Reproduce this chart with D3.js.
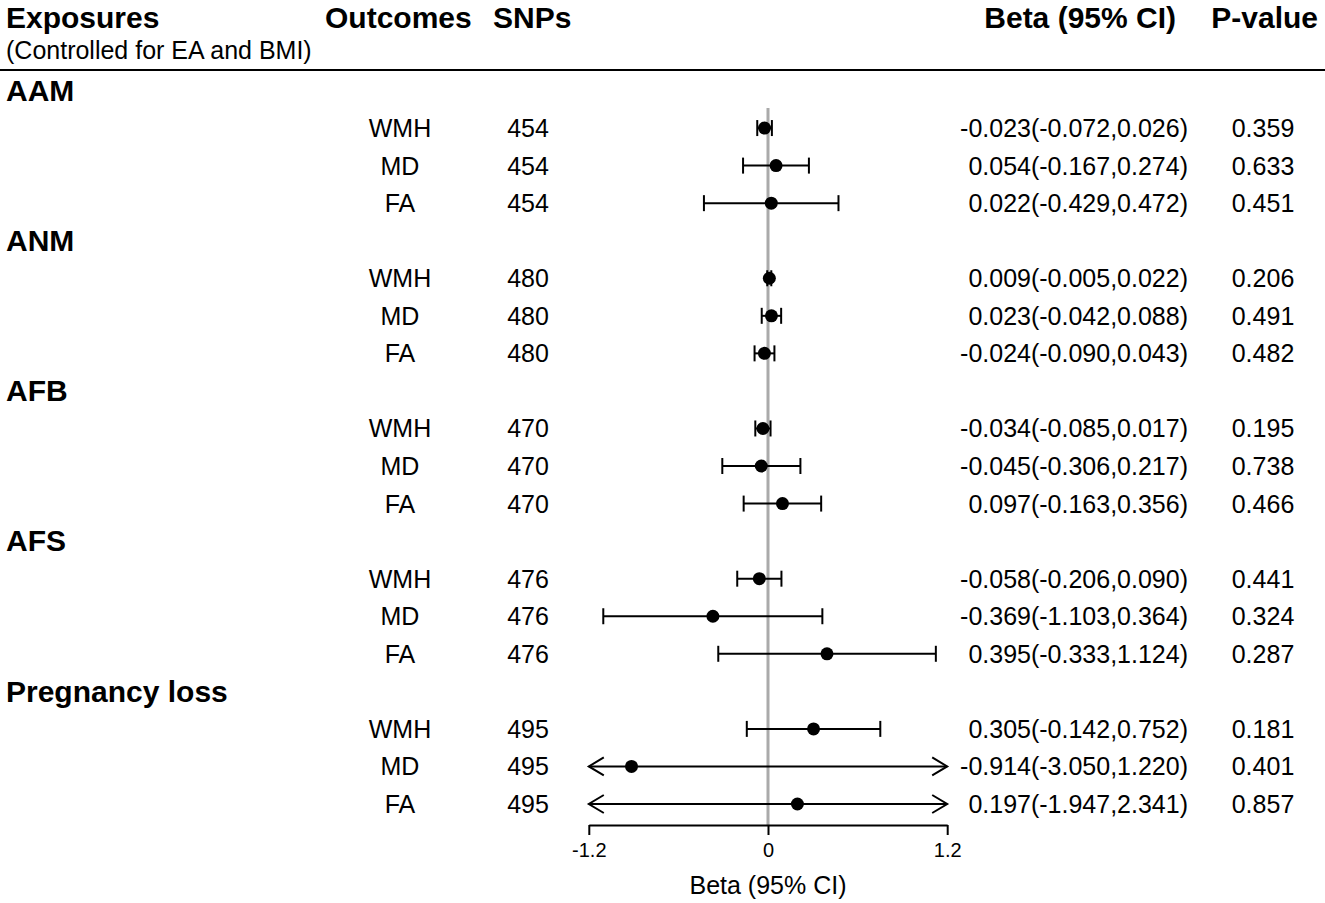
<!DOCTYPE html>
<html lang="en">
<head>
  <meta charset="utf-8">
  <title>Forest plot</title>
  <script src="https://cdn.jsdelivr.net/npm/d3@7"></script>
  <style>
    body { margin: 0; background: #fff; }
    svg text { font-family: "Liberation Sans", Arial, sans-serif; fill: #000; }
  </style>
</head>
<body>
<script>
  // data
  const groups = ["AAM", "ANM", "AFB", "AFS", "Pregnancy loss"];
  const outcomes = ["WMH", "MD", "FA"];
  const snps = [454, 480, 470, 476, 495];
  const beta = [
    [-0.023, 0.054, 0.022],
    [0.009, 0.023, -0.024],
    [-0.034, -0.045, 0.097],
    [-0.058, -0.369, 0.395],
    [0.305, -0.914, 0.197]
  ];
  const lower = [
    [-0.072, -0.167, -0.429],
    [-0.005, -0.042, -0.090],
    [-0.085, -0.306, -0.163],
    [-0.206, -1.103, -0.333],
    [-0.142, -3.050, -1.947]
  ];
  const upper = [
    [0.026, 0.274, 0.472],
    [0.022, 0.088, 0.043],
    [0.017, 0.217, 0.356],
    [0.090, 0.364, 1.124],
    [0.752, 1.220, 2.341]
  ];
  const pvals = [
    ["0.359", "0.633", "0.451"],
    ["0.206", "0.491", "0.482"],
    ["0.195", "0.738", "0.466"],
    ["0.441", "0.324", "0.287"],
    ["0.181", "0.401", "0.857"]
  ];
  const tickVals = [-1.2, 0, 1.2];
  const tickLabels = ["-1.2", "0", "1.2"];

  const W = 1325, H = 903;
  const svg = d3.select("body").append("svg")
    .attr("width", W).attr("height", H);

  // flatten into rows: header row + 3 outcome rows per group
  const rows = [];
  groups.forEach(function (g, gi) {
    rows.push({ type: "group", label: g });
    outcomes.forEach(function (o, oi) {
      rows.push({
        type: "item", outcome: o, snp: snps[gi],
        b: beta[gi][oi], lo: lower[gi][oi], hi: upper[gi][oi], p: pvals[gi][oi]
      });
    });
  });

  const y = d3.scaleLinear().domain([0, rows.length - 1]).range([90.5, 804]);
  const x = d3.scaleLinear().domain([-1.2, 1.2]).range([588.8, 947.2]);
  const f3 = d3.format(".3f");
  const fmt = v => f3(v).replace("−", "-");

  // column headers
  const hdr = svg.append("g").attr("font-weight", "bold").attr("font-size", 30);
  hdr.append("text").attr("x", 6).attr("y", 28).text("Exposures");
  hdr.append("text").attr("x", 325).attr("y", 28).text("Outcomes");
  hdr.append("text").attr("x", 493).attr("y", 28).text("SNPs");
  hdr.append("text").attr("x", 1176).attr("y", 28).attr("text-anchor", "end").text("Beta (95% CI)");
  hdr.append("text").attr("x", 1318).attr("y", 28).attr("text-anchor", "end").text("P-value");
  svg.append("text").attr("x", 6).attr("y", 59).attr("font-size", 25)
    .text("(Controlled for EA and BMI)");

  svg.append("line")
    .attr("x1", 0).attr("x2", W).attr("y1", 70).attr("y2", 70)
    .attr("stroke", "#000").attr("stroke-width", 2);

  // zero line
  svg.append("line")
    .attr("x1", x(0)).attr("x2", x(0)).attr("y1", 108).attr("y2", 825)
    .attr("stroke", "#aaaaaa").attr("stroke-width", 3);

  // group labels
  svg.selectAll(".grp").data(rows.filter(r => r.type === "group"))
    .enter().append("text")
    .attr("class", "grp")
    .attr("x", 6)
    .attr("y", d => y(rows.indexOf(d)))
    .attr("dy", "0.34em")
    .attr("font-size", 30).attr("font-weight", "bold")
    .text(d => d.label);

  const items = rows.map((r, i) => Object.assign({ i: i }, r)).filter(r => r.type === "item");

  const txt = svg.append("g").attr("font-size", 25).attr("text-anchor", "middle");
  txt.selectAll(".out").data(items).enter().append("text")
    .attr("x", 400).attr("y", d => y(d.i)).attr("dy", "0.36em")
    .text(d => d.outcome);
  txt.selectAll(".snp").data(items).enter().append("text")
    .attr("x", 528).attr("y", d => y(d.i)).attr("dy", "0.36em")
    .text(d => d.snp);
  txt.selectAll(".ci").data(items).enter().append("text")
    .attr("x", 1188).attr("y", d => y(d.i)).attr("dy", "0.36em")
    .attr("text-anchor", "end")
    .text(d => fmt(d.b) + "(" + fmt(d.lo) + "," + fmt(d.hi) + ")");
  txt.selectAll(".pv").data(items).enter().append("text")
    .attr("x", 1263).attr("y", d => y(d.i)).attr("dy", "0.36em")
    .text(d => d.p);

  // confidence intervals
  const [dMin, dMax] = x.domain();
  const ci = svg.append("g").attr("stroke", "#000").attr("stroke-width", 2).attr("fill", "none");
  items.forEach(function (d) {
    const yy = y(d.i);
    const lo = Math.max(d.lo, dMin), hi = Math.min(d.hi, dMax);
    ci.append("line").attr("x1", x(lo)).attr("x2", x(hi)).attr("y1", yy).attr("y2", yy);
    // left end
    if (d.lo < dMin) {
      ci.append("path").attr("d", `M${x(lo) + 15},${yy - 9}L${x(lo)},${yy}L${x(lo) + 15},${yy + 9}`);
    } else {
      ci.append("line").attr("x1", x(lo)).attr("x2", x(lo)).attr("y1", yy - 8).attr("y2", yy + 8);
    }
    // right end
    if (d.hi > dMax) {
      ci.append("path").attr("d", `M${x(hi) - 15},${yy - 9}L${x(hi)},${yy}L${x(hi) - 15},${yy + 9}`);
    } else {
      ci.append("line").attr("x1", x(hi)).attr("x2", x(hi)).attr("y1", yy - 8).attr("y2", yy + 8);
    }
  });

  svg.selectAll(".dot").data(items).enter().append("circle")
    .attr("cx", d => x(d.b)).attr("cy", d => y(d.i)).attr("r", 6.5)
    .attr("fill", "#000");

  // x axis
  const axis = d3.axisBottom(x)
    .tickValues(tickVals)
    .tickFormat((d, i) => tickLabels[i])
    .tickSize(10).tickSizeOuter(0).tickPadding(8);
  const ax = svg.append("g").attr("transform", "translate(0,825)").call(axis);
  ax.selectAll("path, line").attr("stroke", "#000").attr("stroke-width", 2);
  ax.selectAll("text").attr("font-size", 20).attr("font-family", "Liberation Sans, Arial, sans-serif");

  svg.append("text").attr("x", x(0)).attr("y", 894).attr("text-anchor", "middle")
    .attr("font-size", 25).text("Beta (95% CI)");
</script>
</body>
</html>
